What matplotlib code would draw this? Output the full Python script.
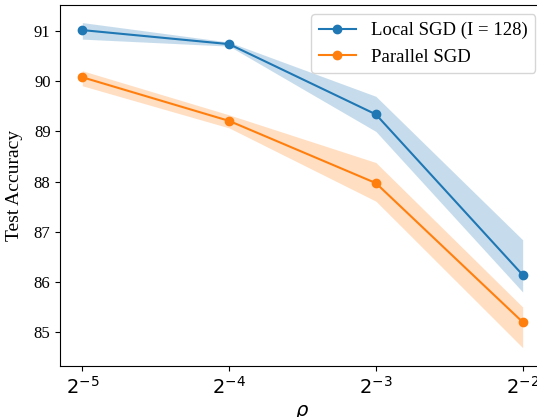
import numpy as np
import matplotlib
matplotlib.use("Agg")
import matplotlib.pyplot as plt
from matplotlib.ticker import NullLocator

# rho values (log2 axis)
rho = [2**-5, 2**-4, 2**-3, 2**-2]

# Local SGD (I = 128)
local_mean = [91.02, 90.74, 89.34, 86.14]
local_lo = [90.84, 90.70, 89.00, 85.80]
local_hi = [91.17, 90.78, 89.70, 86.84]

# Parallel SGD
par_mean = [90.08, 89.21, 87.97, 85.20]
par_lo = [89.91, 89.07, 87.61, 84.69]
par_hi = [90.21, 89.33, 88.38, 85.50]

plt.rcParams['font.family'] = ['Liberation Serif', 'DejaVu Sans']

fig = plt.figure(figsize=(5.37, 4.17), dpi=100)
# axes run past the right edge, like the cropped original
ax = fig.add_axes([0.1123, 0.123, 0.902, 0.865])

ax.plot(rho, local_mean, marker='o', color='tab:blue', label='Local SGD (I = 128)')
ax.fill_between(rho, local_lo, local_hi, color='tab:blue', alpha=0.25, linewidth=0)
ax.plot(rho, par_mean, marker='o', color='tab:orange', label='Parallel SGD')
ax.fill_between(rho, par_lo, par_hi, color='tab:orange', alpha=0.25, linewidth=0)

ax.set_xscale('log', base=2)
ax.xaxis.set_minor_locator(NullLocator())
ax.set_xticks(rho)
ax.set_xticklabels([r'$2^{-5}$', r'$2^{-4}$', r'$2^{-3}$', r'$2^{-2}$'], fontsize=14, family='DejaVu Sans')
ax.set_ylim(84.33, 91.52)
ax.tick_params(axis='y', labelsize=12)

ax.set_ylabel('Test Accuracy', fontsize=14, labelpad=8)
ax.set_xlabel(r'$\rho$', fontsize=14)
ax.legend(loc='upper right', fontsize=13.5)

fig.savefig('out.png', dpi=100)
